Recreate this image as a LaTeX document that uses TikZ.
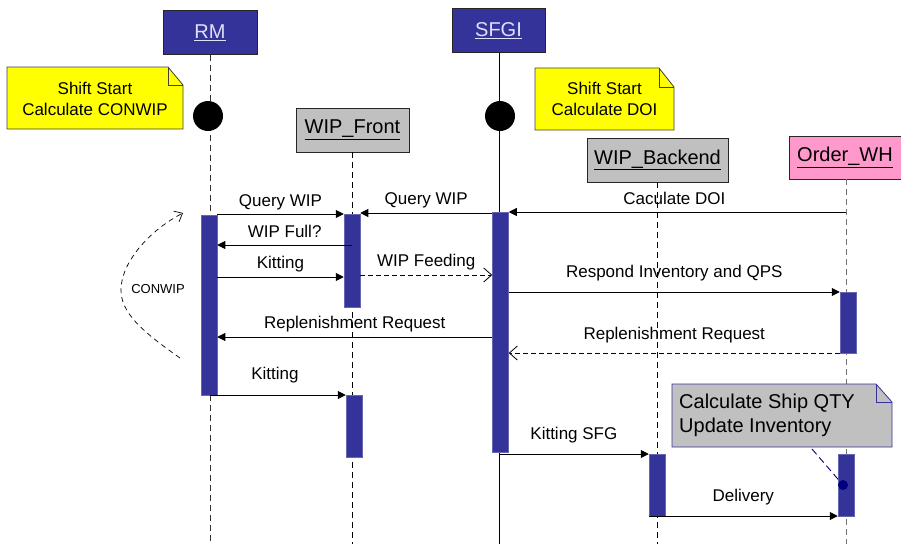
\documentclass[tikz,border=0pt]{standalone}
\usepackage{fontspec}
\setmainfont{Liberation Sans}
\usetikzlibrary{arrows.meta}
\definecolor{barblue}{HTML}{333399}
\definecolor{graybox}{HTML}{C0C0C0}
\definecolor{pinkbox}{HTML}{FF99CC}
\definecolor{notey}{HTML}{FFFF00}
\definecolor{navyc}{HTML}{000080}
\definecolor{headtxt}{HTML}{E0E0F8}
\tikzset{
  msg/.style={draw=black, line width=0.9pt, -{Triangle[length=8pt,width=8pt]}},
  rmsg/.style={draw=black, line width=0.8pt, dash pattern=on 5pt off 3pt, -{Straight Barb[length=8pt,width=14pt]}},
  lbl/.style={font=\fontsize{17}{20}\selectfont, anchor=base, inner sep=0pt},
  head/.style={draw=black!85, line width=0.8pt, minimum height=44pt, inner sep=0pt, font=\fontsize{20}{24}\selectfont},
  bluehead/.style={head, fill=barblue, text=headtxt},
  grayhead/.style={head, fill=graybox, text=black},
  bar/.style={fill=barblue, draw=barblue!75!white, line width=0.5pt, minimum width=16pt, anchor=north, inner sep=0pt},
  life/.style={line width=0.8pt, dash pattern=on 6pt off 4pt},
  startdot/.style={circle, fill=black, minimum size=30pt, inner sep=0pt},
  notey/.style={fill=notey, draw=black!75, line width=0.8pt},
  notetxt/.style={font=\fontsize{17}{21}\selectfont, align=center, inner sep=0pt},
}
\begin{document}
\begin{tikzpicture}[x=1pt,y=-1pt]
\useasboundingbox (0,0) rectangle (901,544);
\fill[white] (0,0) rectangle (901,544);

% lifeline heads
\node[bluehead, minimum width=94pt] (rm) at (210,32.5) {\underline{RM}};
\node[bluehead, minimum width=93pt] (sf) at (498.5,30.5) {\underline{SFGI}};
\node[grayhead, minimum width=113pt] (wf) at (352.5,130) {\underline{WIP\_Front}};
\node[grayhead, minimum width=141pt] (wb) at (657.5,160) {\underline{WIP\_Backend}};
\node[head, fill=pinkbox, minimum width=112pt, minimum height=43pt] (ow) at (845,157.5) {\underline{Order\_WH}};

% lifeline ends
\coordinate (rmE) at (210,544);
\coordinate (sfE) at (499,544);
\coordinate (wfE) at (352,544);
\coordinate (wbE) at (657,544);
\coordinate (owE) at (846,544);

\draw[life, black!80] (rm.south) -- (rmE);
\draw[line width=0.9pt] (sf.south -| sfE) -- (sfE);
\draw[life, black] (wf.south -| wfE) -- (wfE);
\draw[life, black] (wb.south -| wbE) -- (wbE);
\draw[life, black!55] (ow.south -| owE) -- (owE);

% start dots
\node[startdot] (d1) at (208,116) {};
\node[startdot] (d2) at (500,116) {};

% yellow notes
\draw[notey] (7,67) -- (168,67) -- (183,85) -- (183,129) -- (7,129) -- cycle;
\draw[black!75, line width=0.8pt] (168,67) -- (168,85) -- (183,85);
\node[notetxt] (n1) at (95,98.5) {Shift Start\\Calculate CONWIP};
\draw[notey] (535,68) -- (659,68) -- (674,87) -- (674,130) -- (535,130) -- cycle;
\draw[black!75, line width=0.8pt] (659,68) -- (659,87) -- (674,87);
\node[notetxt] (n2) at (604.5,99) {Shift Start\\Calculate DOI};

% activation bars
\node[bar, minimum height=180pt] (rm1) at (209,215) {};
\node[bar, minimum height=93pt] (wf1) at (352,214) {};
\node[bar, minimum height=62pt] (wf2) at (354,395) {};
\node[bar, minimum height=240pt] (sf1) at (500.5,212) {};
\node[bar, minimum height=61pt] (ow1) at (848,292) {};
\node[bar, minimum height=62pt] (ow2) at (846,454) {};
\node[bar, minimum height=62pt] (wb1) at (657,454) {};

% messages
\draw[msg] (rm1.east |- 0,214) -- (wf1.west |- 0,214) node[lbl, midway, yshift=8pt] {Query WIP};
\draw[msg] (sf1.west |- 0,213) -- (wf1.east |- 0,213) node[lbl, midway, yshift=9pt] {Query WIP};
\draw[msg] (owE |- 0,212) -- (sf1.east |- 0,212) node[lbl, midway, xshift=-3pt, yshift=8pt] {Caculate DOI};
\draw[msg] (wfE |- 0,245) -- (rm1.east |- 0,245) node[lbl, midway, yshift=8pt] {WIP Full?};
\draw[msg] (rm1.east |- 0,277) -- (wf1.west |- 0,277) node[lbl, midway, yshift=9pt] {Kitting};
\draw[rmsg] (wf1.east |- 0,275) -- (sf1.west |- 0,275) node[lbl, midway, yshift=9pt] {WIP Feeding};
\draw[msg] (sf1.east |- 0,292) -- (ow1.west |- 0,292) node[lbl, midway, yshift=15pt] {Respond Inventory and QPS};
\draw[msg] (sf1.west |- 0,337) -- (rm1.east |- 0,337) node[lbl, midway, yshift=9pt] {Replenishment Request};
\draw[rmsg] (ow1.west |- 0,353) -- (sf1.east |- 0,353) node[lbl, midway, yshift=14pt] {Replenishment Request};
\draw[msg] (rmE |- 0,395) -- (wf2.west |- 0,395) node[lbl, midway, xshift=-3pt, yshift=16pt] {Kitting};
\draw[msg] (sfE |- 0,454) -- (wb1.west |- 0,454) node[lbl, midway, yshift=15pt] {Kitting SFG};
\draw[msg] (wb1.west |- 0,516) -- (ow2.west |- 0,516) node[lbl, midway, yshift=15pt] {Delivery};

% CONWIP loop
\coordinate (cw1) at (180,358);
\coordinate (cw2) at (183,213);
\draw[line width=0.7pt, dash pattern=on 5pt off 4pt, -{Straight Barb[length=7pt,width=12pt]}]
  (cw1) .. controls (140,330) and (121,312) .. (121,290)
        .. controls (121,262) and (150,230) .. (cw2);
\node[font=\fontsize{13}{15}\selectfont, inner sep=0pt] (cwl) at (158,289) {CONWIP};

% gray note
\draw[fill=graybox, draw=barblue, line width=0.8pt] (672,384) -- (876,384) -- (892,402) -- (892,447) -- (672,447) -- cycle;
\draw[barblue, line width=0.8pt] (876,384) -- (876,402) -- (892,402);
\node[font=\fontsize{20}{24}\selectfont, align=left, anchor=west, inner sep=0pt] (n3) at (679,415) {Calculate Ship QTY\\Update Inventory};
\coordinate (nc) at (812,449);
\node[circle, fill=navyc, minimum size=10pt, inner sep=0pt] (dot) at (843,485) {};
\draw[navyc, line width=0.9pt, dash pattern=on 7pt off 4pt] (nc) -- (dot);
\end{tikzpicture}
\end{document}
